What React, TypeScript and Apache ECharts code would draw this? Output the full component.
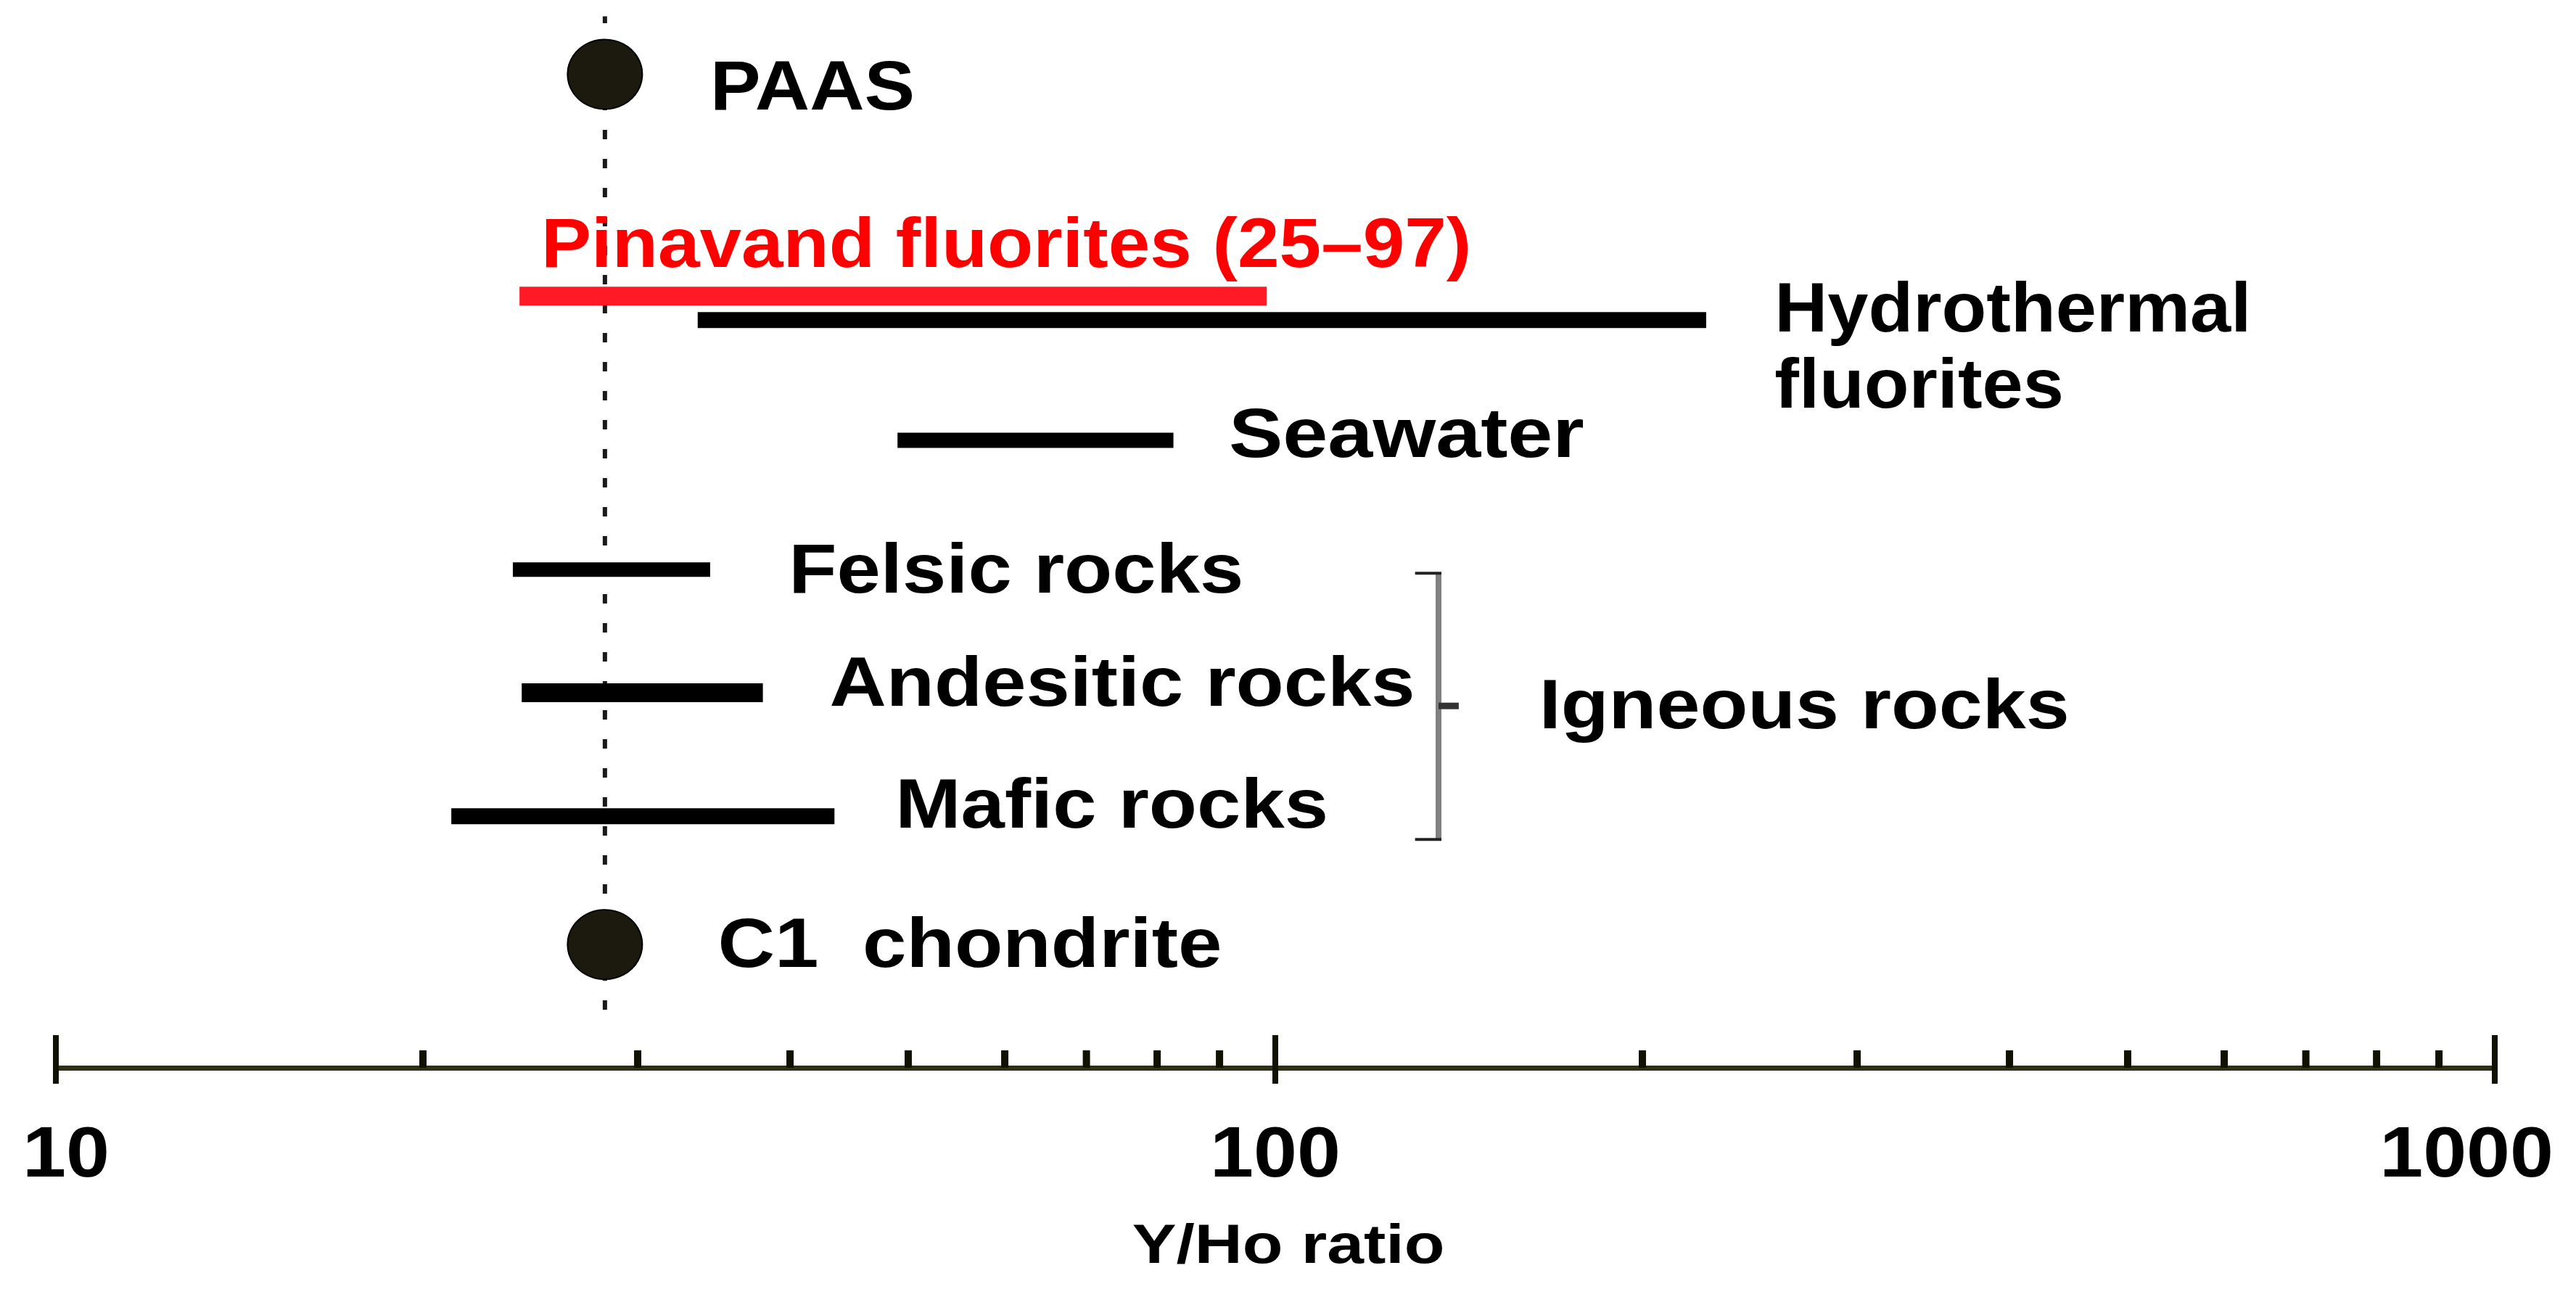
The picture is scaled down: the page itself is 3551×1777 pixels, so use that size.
import React, { useEffect, useRef } from "react";
import * as echarts from "echarts";

// ---------- data ----------
const xTickMajor = [10, 100, 1000];
const xTickMinor = [20, 30, 40, 50, 60, 70, 80, 90, 200, 300, 400, 500, 600, 700, 800, 900];
const xTickLabels = ["10", "100", "1000"];
const axisTitle = "Y/Ho ratio";

// ranges of Y/Ho (horizontal bars); level = row position on the hidden vertical scale
const rangeNames = ["Pinavand fluorites", "Hydrothermal fluorites", "Seawater", "Felsic rocks", "Andesitic rocks", "Mafic rocks"];
const rangeMin = [24.0, 33.6, 49.0, 23.7, 24.1, 21.1];
const rangeMax = [98.4, 225.6, 82.5, 34.4, 38.0, 43.5];
const rangeLevel = [6.186, 5.994, 5.03, 3.994, 3.006, 2.017];

// reference materials (dots)
const refNames = ["PAAS", "C1 chondrite"];
const refValue = [28.2, 28.2];
const refLevel = [7.965, 0.988];

// dotted reference line
const refLineValue = 28.2;
const refLineLevels = [0.465, 8.43];

// annotation texts anchored in data units (left edge, vertical centre)
const labelTexts = [
  "PAAS",
  "Pinavand fluorites (25–97)",
  "Hydrothermal\nfluorites",
  "Seawater",
  "Felsic rocks",
  "Andesitic rocks",
  "Mafic rocks",
  "Igneous rocks",
  "C1  chondrite",
];
const labelX = [34.4, 25.0, 256.7, 91.6, 39.9, 43.1, 48.8, 164.6, 34.9];
const labelLevel = [7.878, 6.616, 5.79, 5.09, 4.0, 3.093, 2.116, 2.913, 1.0];

// bracket grouping the igneous rocks: [hook end x, spine x, tick end x]
const bracketX = [130.2, 136.1, 141.4];
// [top level, bottom level, middle level]
const bracketLevel = [3.965, 1.831, 2.901];

// ---------- styles ----------
const FONT = '"Liberation Sans", Arial, Helvetica, sans-serif';
const RED_TEXT = "#ff0000";
const RED_BAR = "#ff1a25";
const INK = "#000000";
const RANGE_STYLE: Record<string, { color: string; width: number }> = {
  "Pinavand fluorites": { color: RED_BAR, width: 26 },
  "Hydrothermal fluorites": { color: INK, width: 22 },
  Seawater: { color: INK, width: 21 },
  "Felsic rocks": { color: INK, width: 20 },
  "Andesitic rocks": { color: INK, width: 26 },
  "Mafic rocks": { color: INK, width: 22 },
};
const LABEL_STRETCH: Record<string, number> = {
  PAAS: 1.087,
  "Pinavand fluorites (25–97)": 1.078,
  "Hydrothermal\nfluorites": 1.053,
  Seawater: 1.162,
  "Felsic rocks": 1.13,
  "Andesitic rocks": 1.129,
  "Mafic rocks": 1.13,
  "Igneous rocks": 1.123,
  "C1  chondrite": 1.133,
};
const LABEL_COLOR: Record<string, string> = {
  "Pinavand fluorites (25–97)": RED_TEXT,
};

const W = 3551;
const H = 1777;

function measure(text: string, font: string): number {
  const c = document.createElement("canvas");
  const ctx = c.getContext("2d");
  if (!ctx) return text.length * 50;
  ctx.font = font;
  return ctx.measureText(text).width;
}

export default function App() {
  const ref = useRef<HTMLDivElement>(null);

  useEffect(() => {
    document.body.style.margin = "0";
    document.body.style.overflow = "hidden";
    if (!ref.current) return;
    const chart = echarts.init(ref.current, undefined, { renderer: "svg" });

    const tickFontSize = 98;
    const tickStretch = 1.1;
    const tickFont = `bold ${tickFontSize}px "Liberation Sans"`;

    const rangeSeries = rangeNames.map((name, i) => ({
      type: "line",
      name,
      data: [
        [rangeMin[i], rangeLevel[i]],
        [rangeMax[i], rangeLevel[i]],
      ],
      showSymbol: false,
      symbol: "none",
      silent: true,
      z: 4,
      lineStyle: { color: RANGE_STYLE[name].color, width: RANGE_STYLE[name].width, cap: "butt" },
    }));

    const option: any = {
      animation: false,
      backgroundColor: "#ffffff",
      grid: { left: 77, right: 112, top: 19, bottom: 305, containLabel: false },
      xAxis: {
        type: "log",
        logBase: 10,
        min: 10,
        max: 1000,
        axisLine: { show: true, onZero: false, lineStyle: { color: "#2f2f16", width: 7 } },
        axisTick: { show: false },
        axisLabel: { show: false },
        splitLine: { show: false },
        minorTick: { show: false },
      },
      yAxis: { type: "value", min: 0, max: 8.45, show: false },
      graphic: [
        {
          type: "text",
          x: 1776,
          y: 1715,
          scaleX: 1.2,
          style: {
            text: axisTitle,
            fill: INK,
            fontSize: 76,
            fontWeight: "bold",
            fontFamily: FONT,
            align: "center",
            verticalAlign: "middle",
          },
        },
      ],
      series: [
        {
          type: "line",
          name: "reference line",
          data: [
            [refLineValue, refLineLevels[0]],
            [refLineValue, refLineLevels[1]],
          ],
          showSymbol: false,
          symbol: "none",
          silent: true,
          z: 2,
          lineStyle: { color: "#1a1a1a", width: 6, type: [13, 27], cap: "butt" },
        },
        ...rangeSeries,
        {
          type: "scatter",
          name: "reference materials",
          data: refNames.map((n, i) => ({ name: n, value: [refValue[i], refLevel[i]] })),
          symbol: "circle",
          symbolSize: [103, 96],
          silent: true,
          z: 5,
          itemStyle: { color: "#1c1a0e", borderColor: "#000000", borderWidth: 2, opacity: 1 },
        },
        {
          type: "custom",
          name: "labels",
          clip: false,
          silent: true,
          z: 6,
          data: labelTexts.map((t, i) => [labelX[i], labelLevel[i], i]),
          encode: { x: 0, y: 1 },
          renderItem: (_params: any, api: any) => {
            const i = api.value(2);
            const text = labelTexts[i];
            const p = api.coord([api.value(0), api.value(1)]);
            return {
              type: "text",
              x: p[0],
              y: p[1],
              scaleX: LABEL_STRETCH[text] || 1.12,
              style: {
                text,
                fill: LABEL_COLOR[text] || INK,
                fontSize: 96,
                fontWeight: "bold",
                fontFamily: FONT,
                lineHeight: 105,
                align: "left",
                verticalAlign: "middle",
              },
            };
          },
        },
        {
          type: "custom",
          name: "bracket",
          clip: false,
          silent: true,
          z: 6,
          data: [[bracketX[0], bracketX[1], bracketX[2], bracketLevel[0], bracketLevel[1], bracketLevel[2]]],
          encode: { x: [0, 1, 2], y: [3, 4, 5] },
          renderItem: (_params: any, api: any) => {
            const hx = api.value(0);
            const sx = api.value(1);
            const tx = api.value(2);
            const top = api.value(3);
            const bot = api.value(4);
            const mid = api.value(5);
            const pTopH = api.coord([hx, top]);
            const pTopS = api.coord([sx, top]);
            const pBotH = api.coord([hx, bot]);
            const pBotS = api.coord([sx, bot]);
            const pMidS = api.coord([sx, mid]);
            const pMidT = api.coord([tx, mid]);
            return {
              type: "group",
              children: [
                {
                  type: "line",
                  shape: { x1: pTopS[0], y1: pTopS[1], x2: pBotS[0], y2: pBotS[1] },
                  style: { stroke: "#808080", lineWidth: 8 },
                },
                {
                  type: "line",
                  shape: { x1: pTopH[0], y1: pTopH[1], x2: pTopS[0] + 4, y2: pTopS[1] },
                  style: { stroke: "#222222", lineWidth: 4 },
                },
                {
                  type: "line",
                  shape: { x1: pBotH[0], y1: pBotH[1], x2: pBotS[0] + 4, y2: pBotS[1] },
                  style: { stroke: "#222222", lineWidth: 4 },
                },
                {
                  type: "line",
                  shape: { x1: pMidS[0], y1: pMidS[1], x2: pMidT[0], y2: pMidT[1] },
                  style: { stroke: "#333333", lineWidth: 9 },
                },
              ],
            };
          },
        },
        {
          type: "custom",
          name: "ticks",
          clip: false,
          silent: true,
          z: 7,
          data: [...xTickMajor.map((v) => [v, 1]), ...xTickMinor.map((v) => [v, 0])],
          encode: { x: 0, y: 1 },
          renderItem: (_params: any, api: any) => {
            const major = api.value(1) === 1;
            const p = api.coord([api.value(0), 0]);
            return {
              type: "line",
              shape: major
                ? { x1: p[0], y1: p[1] - 45, x2: p[0], y2: p[1] + 22 }
                : { x1: p[0], y1: p[1] - 24, x2: p[0], y2: p[1] },
              style: { stroke: "#111100", lineWidth: major ? 8 : 10 },
            };
          },
        },
        {
          type: "custom",
          name: "tick labels",
          clip: false,
          silent: true,
          z: 7,
          data: xTickMajor.map((v, i) => [v, 0, i]),
          encode: { x: 0, y: 1 },
          renderItem: (_params: any, api: any) => {
            const i = api.value(2);
            const text = xTickLabels[i];
            const p = api.coord([api.value(0), 0]);
            const w = measure(text, tickFont) * tickStretch;
            const margin = 31;
            let cx = p[0];
            if (cx - w / 2 < margin) cx = margin + w / 2;
            if (cx + w / 2 > W - margin) cx = W - margin - w / 2;
            return {
              type: "text",
              x: cx,
              y: p[1] + 116,
              scaleX: tickStretch,
              style: {
                text,
                fill: INK,
                fontSize: tickFontSize,
                fontWeight: "bold",
                fontFamily: FONT,
                align: "center",
                verticalAlign: "middle",
              },
            };
          },
        },
      ],
    };

    chart.setOption(option);
    return () => {
      chart.dispose();
    };
  }, []);

  return <div ref={ref} style={{ width: W, height: H }} />;
}
